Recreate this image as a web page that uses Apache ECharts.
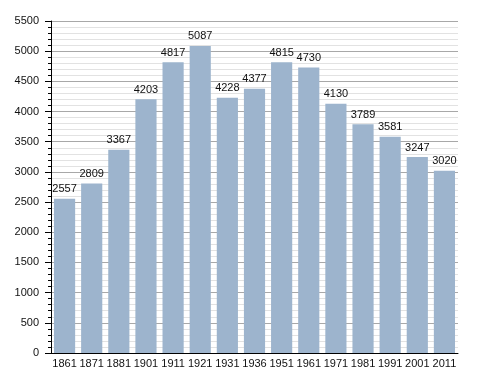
<!DOCTYPE html>
<html><head><meta charset="utf-8">
<script src="https://cdn.jsdelivr.net/npm/echarts@6/dist/echarts.min.js"></script>
<style>html,body{margin:0;padding:0;background:#fff}#c{width:488px;height:373px}</style>
</head><body><div id="c"></div>
<script>
const years = ['1861','1871','1881','1901','1911','1921','1931','1936','1951','1961','1971','1981','1991','2001','2011'];
const population = [2557,2809,3367,4203,4817,5087,4228,4377,4815,4730,4130,3789,3581,3247,3020];
const yTicks = [0,500,1000,1500,2000,2500,3000,3500,4000,4500,5000,5500];

const chart = echarts.init(document.getElementById('c'), null, {renderer:'canvas'});
chart.setOption({
  animation:false,
  grid:{left:51,right:30,top:21,bottom:20,containLabel:false},
  xAxis:{type:'category',data:years,
    axisLine:{lineStyle:{color:'#000',width:1}},
    axisTick:{show:false},
    axisLabel:{color:'#111',fontSize:11,fontFamily:'Liberation Sans, Arial, sans-serif',margin:5,interval:0}},
  yAxis:{type:'value',min:yTicks[0],max:yTicks[yTicks.length-1],interval:500,
    axisLine:{show:true,lineStyle:{color:'#000',width:1}},
    axisTick:{show:true,length:6,lineStyle:{color:'#000'}},
    minorTick:{show:true,splitNumber:5,length:3,lineStyle:{color:'#000'}},
    splitLine:{show:true,lineStyle:{color:'#a8a8a8',width:1}},
    minorSplitLine:{show:true,lineStyle:{color:'#e2e2e2',width:1}},
    axisLabel:{color:'#111',fontSize:11,fontFamily:'Liberation Sans, Arial, sans-serif',margin:12,formatter:function(v){return String(v);}}},
  series:[{type:'bar',data:population,barCategoryGap:'22%',
    itemStyle:{color:'#9db4cd'},
    label:{show:true,position:'top',distance:4,color:'#111',fontSize:11,fontFamily:'Liberation Sans, Arial, sans-serif'}}]
});
</script></body></html>
